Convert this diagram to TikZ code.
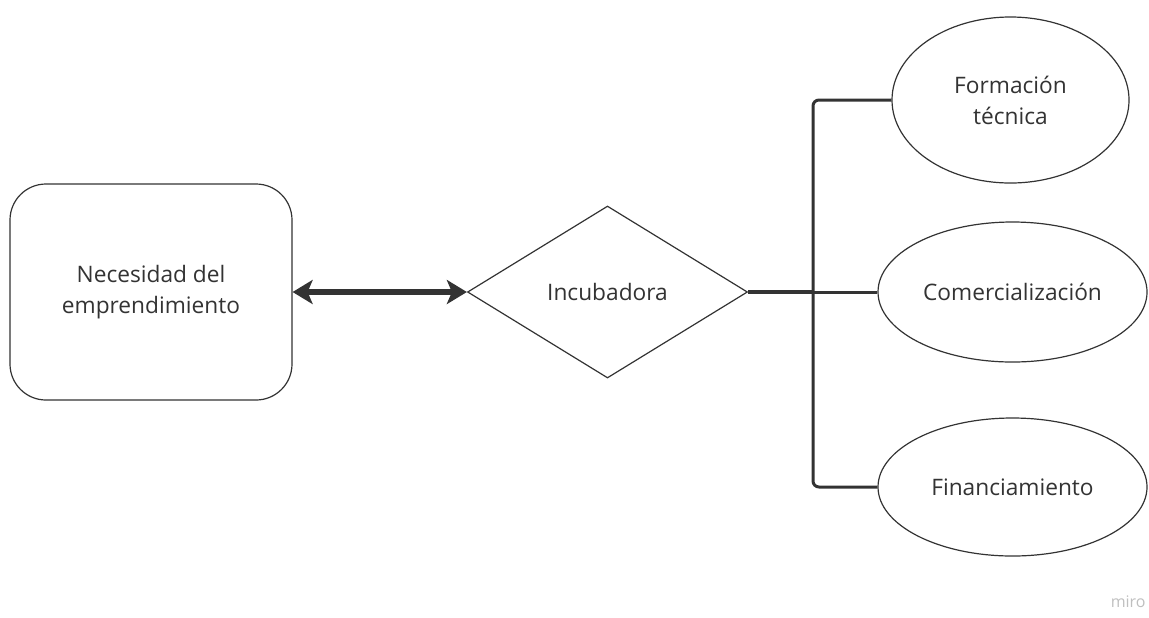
\documentclass[tikz,border=0pt]{standalone}
\usepackage{fontspec}
\setmainfont{Open Sans}
\usetikzlibrary{arrows.meta,shapes.geometric}
\definecolor{inkgray}{HTML}{333333}

\begin{document}
\begin{tikzpicture}[x=0.5pt,y=-0.5pt,>={Stealth[length=10pt,width=12pt,inset=2.5pt]},
		every node/.style={font=\fontsize{11.35pt}{15.5pt}\selectfont,text=inkgray,align=center},
		shapeline/.style={draw=inkgray,line width=0.6pt},
		branchline/.style={draw=inkgray,line width=1.5pt,rounded corners=3pt}]
				\useasboundingbox (0,0) rectangle (1149,617);

				\node[shapeline,rectangle,rounded corners=18pt,minimum width=141pt,minimum height=108pt]
					(need) at (151,292) {Necesidad del\\emprendimiento};

				\node[shapeline,diamond,minimum width=140pt,minimum height=86pt,inner sep=0pt]
					(inc) at (607.5,292) {Incubadora};

				\node[shapeline,ellipse,minimum width=118.5pt,minimum height=83pt,inner sep=0pt]
					(form) at (1010.5,100) {Formación\\técnica};
				\node[shapeline,ellipse,minimum width=134.5pt,minimum height=70pt,inner sep=0pt]
					(com) at (1012.5,292) {Comercialización};
				\node[shapeline,ellipse,minimum width=134.5pt,minimum height=69pt,inner sep=0pt]
					(fin) at (1012.5,487) {Financiamiento};

				\draw[<->,draw=inkgray,line width=2.6pt] (need.east) -- (inc.west);

				\coordinate (split) at (813,292);
				\draw[branchline,line width=2pt] (inc.east) -- (split);
				\draw[branchline] (split) |- (form.west);
				\draw[branchline] (split) -- (com.west);
				\draw[branchline] (split) |- (fin.west);

				\node[font=\fontsize{8pt}{9pt}\selectfont,text=black!25,anchor=east,inner sep=1pt]
					(mark) at (1148,602) {miro};
			\end{tikzpicture}
\end{document}
